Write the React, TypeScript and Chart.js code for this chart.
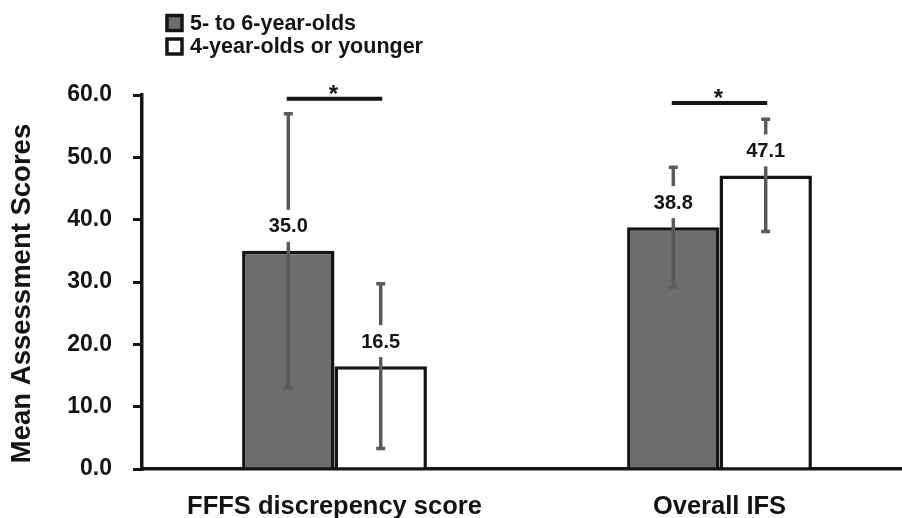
import React, { useEffect, useRef } from "react";
import { Chart, registerables } from "chart.js";

Chart.register(...registerables);

const categories = ["FFFS discrepency score", "Overall IFS"];
const seriesNames = ["5- to 6-year-olds", "4-year-olds or younger"];
const olderMeans = [35.0, 38.8];
const youngerMeans = [16.5, 47.1];
const olderErrors = [22.0, 9.6];
const youngerErrors = [13.2, 9.0];
const yTicks = [0, 10, 20, 30, 40, 50, 60];
const sigLevels = [59.4, 58.7];
const sigMarks = ["*", "*"];

const FONT = '"Liberation Sans", Arial, Helvetica, sans-serif';
const INK = "#141414";
const GRAY = "#6d6d6d";
const ERR = "#5a5a5a";

const annotations = {
  id: "annotations",
  afterDatasetsDraw(chart: any) {
    const ctx = chart.ctx;
    const ys = chart.scales.y;
    const xs = chart.scales.x;
    const errs = [olderErrors, youngerErrors];
    chart.data.datasets.forEach((ds: any, di: number) => {
      const meta = chart.getDatasetMeta(di);
      meta.data.forEach((bar: any, i: number) => {
        const v = ds.data[i] as number;
        const e = errs[di][i];
        const px = bar.x;
        const top = ys.getPixelForValue(v + e);
        const bot = ys.getPixelForValue(v - e);
        ctx.save();
        ctx.strokeStyle = ERR;
        ctx.lineWidth = 3.5;
        ctx.beginPath();
        ctx.moveTo(px, top);
        ctx.lineTo(px, bot);
        ctx.stroke();
        ctx.lineWidth = 3.5;
        ctx.beginPath();
        ctx.moveTo(px - 4.5, top);
        ctx.lineTo(px + 4.5, top);
        ctx.moveTo(px - 4.5, bot);
        ctx.lineTo(px + 4.5, bot);
        ctx.stroke();
        const ly = bar.y - 25;
        ctx.font = `bold 20px ${FONT}`;
        const label = v.toFixed(1);
        const w = ctx.measureText(label).width;
        ctx.fillStyle = "#ffffff";
        ctx.fillRect(px - w / 2 - 2, ly - 16, w + 4, 32);
        ctx.fillStyle = INK;
        ctx.textAlign = "center";
        ctx.textBaseline = "middle";
        ctx.fillText(label, px, ly + 1);
        ctx.restore();
      });
    });
    const catW = (xs.right - xs.left) / categories.length;
    sigLevels.forEach((lvl, i) => {
      const cx = xs.getPixelForValue(i);
      const py = ys.getPixelForValue(lvl);
      ctx.save();
      ctx.strokeStyle = INK;
      ctx.lineWidth = 4;
      ctx.beginPath();
      ctx.moveTo(cx - catW * 0.124, py);
      ctx.lineTo(cx + catW * 0.124, py);
      ctx.stroke();
      ctx.fillStyle = INK;
      ctx.font = `bold 24px ${FONT}`;
      ctx.textAlign = "center";
      ctx.textBaseline = "alphabetic";
      ctx.fillText(sigMarks[i], cx - 1, py + 3);
      ctx.restore();
    });
  },
  afterDraw(chart: any) {
    const ctx = chart.ctx;
    const fills = [GRAY, "#ffffff"];
    const rows = [23, 46.5];
    ctx.save();
    seriesNames.forEach((name, i) => {
      const cy = rows[i];
      ctx.fillStyle = fills[i];
      ctx.fillRect(167, cy - 7.5, 15, 15);
      ctx.strokeStyle = INK;
      ctx.lineWidth = 3.5;
      ctx.strokeRect(167, cy - 7.5, 15, 15);
      ctx.fillStyle = INK;
      ctx.font = `bold 21.5px ${FONT}`;
      ctx.textAlign = "left";
      ctx.textBaseline = "middle";
      ctx.fillText(name, 190, cy + 1);
    });
    ctx.restore();
  },
};

export default function App() {
  const ref = useRef<HTMLCanvasElement>(null);
  useEffect(() => {
    if (!ref.current) return;
    const chart = new Chart(ref.current, {
      type: "bar",
      data: {
        labels: categories,
        datasets: [
          {
            label: seriesNames[0],
            data: olderMeans,
            backgroundColor: GRAY,
            borderColor: INK,
            borderWidth: 3.5,
          },
          {
            label: seriesNames[1],
            data: youngerMeans,
            backgroundColor: "#ffffff",
            borderColor: INK,
            borderWidth: 3.5,
          },
        ],
      },
      options: {
        responsive: false,
        animation: false,
        devicePixelRatio: 1,
        layout: { padding: { top: 95, left: 0, right: 0, bottom: 0 } },
        plugins: { legend: { display: false }, tooltip: { enabled: false } },
        datasets: { bar: { categoryPercentage: 0.48, barPercentage: 1.0 } },
        scales: {
          x: {
            grid: { display: false, drawTicks: false },
            border: { display: true, color: INK, width: 3.5 },
            ticks: {
              color: INK,
              font: { family: FONT, size: 25.5, weight: "bold" },
              padding: 23,
            },
            afterFit: (s: any) => {
              s.height = 49;
            },
          },
          y: {
            min: 0,
            max: 60,
            afterBuildTicks: (s: any) => {
              s.ticks = yTicks.map((v) => ({ value: v }));
            },
            ticks: {
              color: INK,
              font: { family: FONT, size: 23, weight: "bold" },
              padding: 21,
              callback: (v: any) => Number(v).toFixed(1),
            },
            grid: {
              drawOnChartArea: false,
              drawTicks: true,
              tickLength: 9,
              color: INK,
              lineWidth: 3,
            },
            border: { display: true, color: INK, width: 3.5 },
            title: {
              display: true,
              text: "Mean Assessment Scores   ",
              color: INK,
              font: { family: FONT, size: 27.5, weight: "bold" },
              padding: { top: 6, bottom: 0 },
            },
            afterFit: (s: any) => {
              s.width = 142;
            },
          },
        },
      },
      plugins: [annotations],
    } as any);
    return () => chart.destroy();
  }, []);
  return (
    <div
      style={{
        position: "absolute",
        left: 0,
        top: 0,
        width: 902,
        height: 518,
        overflow: "hidden",
        background: "#ffffff",
      }}
    >
      <canvas ref={ref} width={912} height={518} style={{ display: "block", width: 912, height: 518 }} />
    </div>
  );
}
